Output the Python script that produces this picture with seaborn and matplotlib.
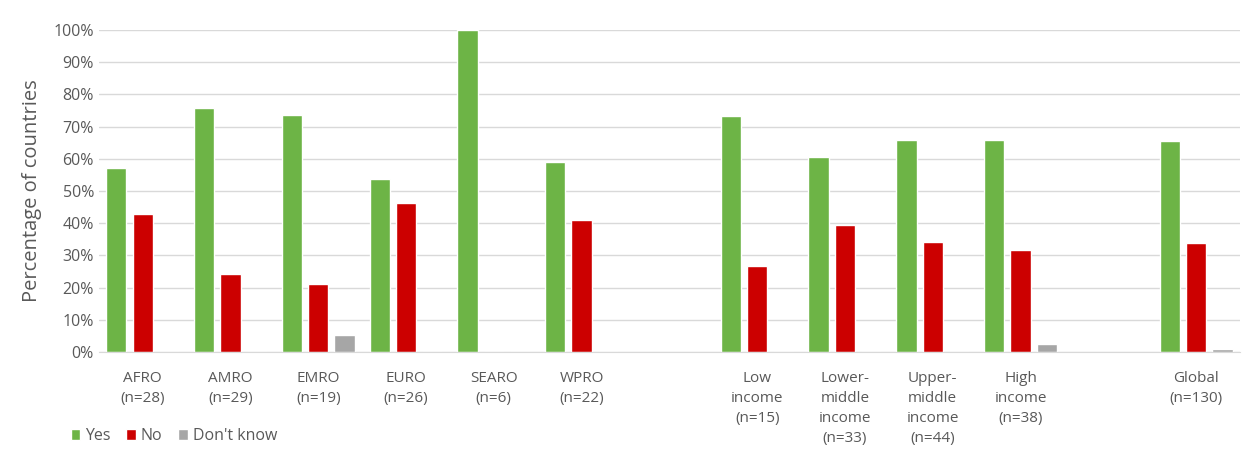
import pandas as pd
import seaborn as sns
import matplotlib.pyplot as plt
from matplotlib.ticker import PercentFormatter, MultipleLocator

# data (share of countries, %)
categories = ["AFRO\n(n=28)", "AMRO\n(n=29)", "EMRO\n(n=19)", "EURO\n(n=26)",
              "SEARO\n(n=6)", "WPRO\n(n=22)",
              "Low\nincome\n(n=15)", "Lower-\nmiddle\nincome\n(n=33)",
              "Upper-\nmiddle\nincome\n(n=44)", "High\nincome\n(n=38)",
              "Global\n(n=130)"]
yes_vals = [57.1, 75.9, 73.7, 53.8, 100.0, 59.1, 73.3, 60.6, 65.9, 65.8, 65.4]
no_vals = [42.9, 24.1, 21.1, 46.2, 0.0, 40.9, 26.7, 39.4, 34.1, 31.6, 33.8]
dk_vals = [0.0, 0.0, 5.3, 0.0, 0.0, 0.0, 0.0, 0.0, 0.0, 2.6, 0.8]

answers = ["Yes", "No", "Don't know"]
colors = ["#6DB446", "#CC0000", "#A6A6A6"]

# empty slots separate regions / income groups / global
order = categories[:6] + [" "] + categories[6:10] + ["  "] + categories[10:]

rows = []
for name, vals in zip(answers, [yes_vals, no_vals, dk_vals]):
    for cat, v in zip(categories, vals):
        rows.append({"category": cat, "answer": name, "value": v})
df = pd.DataFrame(rows)

sns.set_style("white")
plt.rcParams['font.family'] = ['Open Sans', 'DejaVu Sans']

fig = plt.figure(figsize=(12.5, 4.53), dpi=100)
ax = fig.add_axes([0.079, 0.223, 0.913, 0.711])

sns.barplot(data=df, x="category", y="value", hue="answer", order=order,
            hue_order=answers, palette=colors, width=0.9, gap=0.23,
            saturation=1, ax=ax, legend=True)

ax.set_ylim(0, 100)
ax.set_xlim(-0.5, len(order) - 0.5)
ax.yaxis.set_major_locator(MultipleLocator(10))
ax.yaxis.set_major_formatter(PercentFormatter(decimals=0))
ax.grid(axis="y", color="#D9D9D9", linewidth=1)
ax.set_axisbelow(True)
for s in ["top", "right", "left"]:
    ax.spines[s].set_visible(False)
ax.spines["bottom"].set_color("#D9D9D9")
ax.tick_params(axis="both", length=0, colors="#595959", labelsize=11.5)
ax.tick_params(axis="x", pad=14, labelsize=11)
for lab in ax.get_xticklabels():
    lab.set_linespacing(1.45)
    lab.set_verticalalignment("top")
ax.set_xlabel("")
ax.set_ylabel("Percentage of countries", fontsize=14.5, color="#595959", labelpad=8)

handles, labels = ax.get_legend_handles_labels()
ax.get_legend().remove()
leg = fig.legend(handles, labels, loc="lower left", bbox_to_anchor=(0.045, -0.012),
                 ncol=3, frameon=False, fontsize=11.5, handlelength=0.6,
                 handleheight=0.6, handletextpad=0.3, columnspacing=1.0)
for t in leg.get_texts():
    t.set_color("#595959")

fig.savefig("out.png", dpi=100)
